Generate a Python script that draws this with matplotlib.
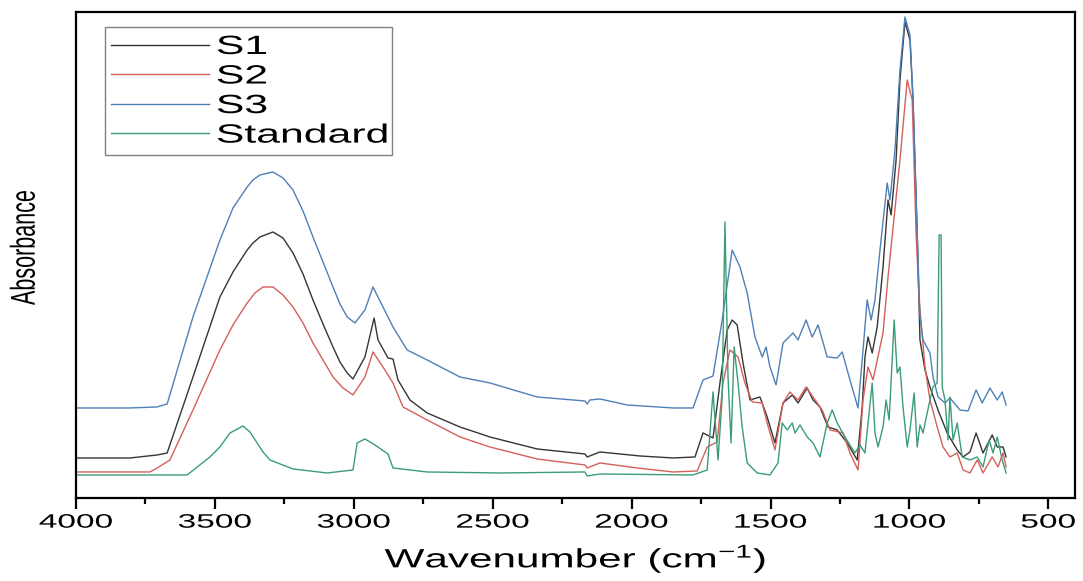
import matplotlib
matplotlib.use("Agg")
import matplotlib.pyplot as plt
from matplotlib.patheffects import AbstractPathEffect
from matplotlib.transforms import Affine2D
from matplotlib.lines import Line2D
from matplotlib.patches import Rectangle
from matplotlib.ticker import MultipleLocator

plt.rcParams['font.family'] = ['Liberation Sans', 'DejaVu Sans']
plt.rcParams['mathtext.fontset'] = 'custom'
plt.rcParams['mathtext.rm'] = 'Liberation Sans'
plt.rcParams['mathtext.it'] = 'Liberation Sans:italic'
plt.rcParams['mathtext.bf'] = 'Liberation Sans:bold'

# ---------------- data (wavenumber cm-1, absorbance a.u.) ----------------
s3_wn = [4000, 3806, 3708, 3672, 3579, 3482, 3435, 3384, 3363, 3338, 3291, 3255, 3219,
         3183, 3147, 3111, 3075, 3050, 3024,
         2996, 2960, 2931, 2895, 2859, 2808, 2736, 2618, 2510, 2340, 2168, 2160, 2150,
         2114, 2016, 1851, 1779, 1743, 1707, 1674, 1638, 1610, 1584, 1556, 1530, 1516,
         1502, 1480, 1455, 1419, 1401, 1372, 1350, 1329, 1296, 1260, 1242, 1214, 1185,
         1167, 1152, 1138, 1124, 1106, 1080, 1070, 1052, 1034, 1016, 998, 987, 972, 962,
         951, 926, 915, 897, 872, 854, 818, 789, 760, 738, 710, 684, 666, 652]
s3_abs = [0.180, 0.180, 0.182, 0.188, 0.362, 0.516, 0.580, 0.622, 0.636, 0.646, 0.652,
          0.640, 0.616, 0.574, 0.522, 0.472, 0.422, 0.388, 0.362,
          0.350, 0.376, 0.422, 0.382, 0.342, 0.296, 0.276, 0.242, 0.230,
          0.202, 0.194, 0.188, 0.196, 0.198, 0.186, 0.180, 0.180, 0.236, 0.244, 0.356,
          0.496, 0.462, 0.410, 0.322, 0.282, 0.302, 0.262, 0.226, 0.310, 0.330, 0.316,
          0.356, 0.322, 0.346, 0.282, 0.280, 0.292, 0.236, 0.180, 0.296, 0.396, 0.356,
          0.396, 0.496, 0.630, 0.596, 0.696, 0.856, 0.962, 0.926, 0.796, 0.530, 0.362,
          0.316, 0.290, 0.242, 0.202, 0.190, 0.200, 0.176, 0.174, 0.216, 0.190, 0.220,
          0.196, 0.212, 0.186]

s1_wn = [4000, 3806, 3708, 3672, 3579, 3482, 3435, 3384, 3363, 3338, 3291, 3255, 3219,
         3183, 3147, 3111, 3075, 3050, 3024,
         3003, 2960, 2927, 2913, 2877, 2859, 2841, 2798, 2736, 2618, 2510, 2340, 2168,
         2160, 2114, 1970, 1851, 1772, 1743, 1707, 1682, 1656, 1638, 1620, 1599, 1574,
         1538, 1512, 1484, 1455, 1422, 1401, 1368, 1347, 1322, 1293, 1260, 1224, 1188,
         1170, 1160, 1149, 1134, 1116, 1095, 1077, 1066, 1048, 1034, 1016, 998, 987, 972,
         962, 944, 926, 897, 864, 828, 807, 782, 760, 735, 702, 684, 663, 652]
s1_abs = [0.080, 0.080, 0.086, 0.090, 0.242, 0.402, 0.452, 0.496, 0.510, 0.522, 0.532,
          0.520, 0.490, 0.448, 0.396, 0.348, 0.302, 0.272, 0.250,
          0.238, 0.282, 0.360, 0.316, 0.280, 0.278, 0.236, 0.196, 0.170,
          0.142, 0.122, 0.098, 0.088, 0.082, 0.092, 0.084, 0.080, 0.082, 0.130, 0.120,
          0.230, 0.336, 0.356, 0.346, 0.270, 0.196, 0.202, 0.162, 0.110, 0.190, 0.206,
          0.190, 0.220, 0.196, 0.182, 0.142, 0.136, 0.110, 0.076, 0.182, 0.282, 0.322,
          0.290, 0.342, 0.462, 0.596, 0.566, 0.676, 0.836, 0.952, 0.916, 0.796, 0.530,
          0.316, 0.256, 0.222, 0.176, 0.130, 0.096, 0.082, 0.092, 0.130, 0.090, 0.126,
          0.102, 0.102, 0.082]

s2_wn = [4000, 3734, 3708, 3662, 3579, 3482, 3435, 3384, 3356, 3327, 3291, 3255, 3219,
         3183, 3147, 3111, 3075, 3039, 3003,
         2960, 2931, 2895, 2859, 2823, 2736, 2618, 2510, 2340, 2168, 2160, 2114, 1980,
         1851, 1764, 1728, 1692, 1671, 1646, 1617, 1592, 1566, 1530, 1512, 1484, 1455,
         1430, 1401, 1372, 1347, 1314, 1286, 1239, 1214, 1185, 1167, 1149, 1131, 1095,
         1077, 1034, 1008, 990, 976, 965, 944, 926, 900, 879, 854, 828, 807, 782, 756,
         735, 702, 681, 663, 652]
s2_abs = [0.052, 0.052, 0.060, 0.076, 0.176, 0.296, 0.346, 0.390, 0.410, 0.422, 0.422,
          0.406, 0.382, 0.350, 0.310, 0.276, 0.242, 0.220, 0.206,
          0.242, 0.292, 0.262, 0.230, 0.182, 0.156, 0.122, 0.102, 0.078,
          0.066, 0.060, 0.070, 0.060, 0.052, 0.054, 0.102, 0.112, 0.230, 0.296, 0.282,
          0.230, 0.192, 0.190, 0.150, 0.096, 0.190, 0.212, 0.196, 0.222, 0.202, 0.176,
          0.136, 0.130, 0.090, 0.056, 0.196, 0.262, 0.236, 0.330, 0.442, 0.676, 0.836,
          0.796, 0.530, 0.396, 0.262, 0.196, 0.142, 0.102, 0.082, 0.090, 0.056, 0.050,
          0.076, 0.050, 0.082, 0.062, 0.090, 0.062]

std_wn = [4000, 3600, 3518, 3482, 3446, 3399, 3374, 3348, 3327, 3302, 3219, 3096, 3003,
          2988, 2960, 2942,
          2924, 2898, 2877, 2859, 2736, 2474, 2168, 2160, 2114, 1779, 1728, 1707, 1689,
          1674, 1664, 1653, 1642, 1631, 1617, 1602, 1584, 1548, 1502, 1473, 1458, 1440,
          1422, 1412, 1394, 1368, 1347, 1322, 1296, 1278, 1260, 1232, 1196, 1178, 1160,
          1134, 1124, 1113, 1095, 1084, 1073, 1062, 1055, 1044, 1034, 1023, 1008, 998,
          983, 972, 962, 951, 936, 926, 915, 900, 893, 886, 882, 872, 861, 854, 843, 828,
          810, 782, 756, 735, 713, 699, 684, 666, 652]
std_abs = [0.046, 0.046, 0.082, 0.102, 0.130, 0.144, 0.132, 0.110, 0.092, 0.076, 0.058,
           0.050, 0.056, 0.110,
           0.118, 0.112, 0.106, 0.096, 0.088, 0.060, 0.052, 0.050, 0.052, 0.044, 0.048,
           0.046, 0.056, 0.212, 0.076, 0.202, 0.552, 0.242, 0.110, 0.302, 0.230, 0.142,
           0.070, 0.050, 0.046, 0.070, 0.150, 0.136, 0.150, 0.130, 0.146, 0.122, 0.110,
           0.082, 0.150, 0.176, 0.150, 0.122, 0.090, 0.106, 0.090, 0.230, 0.130, 0.102,
           0.142, 0.196, 0.156, 0.276, 0.356, 0.250, 0.262, 0.182, 0.102, 0.136, 0.210,
           0.102, 0.146, 0.130, 0.170, 0.196, 0.222, 0.230, 0.526, 0.526, 0.222, 0.196,
           0.116, 0.202, 0.116, 0.150, 0.082, 0.076, 0.082, 0.062, 0.116, 0.090, 0.122,
           0.076, 0.050]

series_names = ['S1', 'S2', 'S3', 'Standard']
x_ticks = [4000, 3500, 3000, 2500, 2000, 1500, 1000, 500]


# ---------------- horizontal glyph stretch (source image is stretched) ----------------
class Stretch(AbstractPathEffect):
    def __init__(self, sx=1.0, sy=1.0, anchor='center'):
        super().__init__()
        self.sx, self.sy, self.anchor = sx, sy, anchor

    def draw_path(self, renderer, gc, tpath, affine, rgbFace=None):
        ext = tpath.get_extents()
        cx = ext.x0 if self.anchor == 'left' else 0.5 * (ext.x0 + ext.x1)
        cy = 0.5 * (ext.y0 + ext.y1)
        t = Affine2D().translate(-cx, -cy).scale(self.sx, self.sy).translate(cx, cy) + affine
        renderer.draw_path(gc, tpath, t, rgbFace)


colors = ['#353535', '#d4605c', '#4f80b8', '#3a9c78']

fig = plt.figure(figsize=(10.83, 5.81), dpi=100)
ax = fig.add_axes([0.0702, 0.1429, 0.9224, 0.8365])

ax.plot(s1_wn, s1_abs, color=colors[0], lw=1.0)
ax.plot(s2_wn, s2_abs, color=colors[1], lw=1.0)
ax.plot(s3_wn, s3_abs, color=colors[2], lw=1.0)
ax.plot(std_wn, std_abs, color=colors[3], lw=1.0)

ax.set_xlim(4000, 404)
ax.set_ylim(0, 0.972)
ax.set_xticks(x_ticks)
ax.set_xticklabels([str(t) for t in x_ticks])
ax.xaxis.set_minor_locator(MultipleLocator(250))
ax.set_yticks([])
ax.tick_params(axis='x', which='major', direction='out', length=8, width=1.6,
               labelsize=14, pad=4, colors='black')
ax.tick_params(axis='x', which='minor', direction='out', length=4.5, width=1.6)
for sp in ax.spines.values():
    sp.set_linewidth(1.6)
    sp.set_color('black')

for tk in ax.xaxis.get_major_ticks():
    tk.label1.set_path_effects([Stretch(1.72, 1.0, 'center')])

xl = ax.set_xlabel('Wavenumber (cm$^{-1}$)', fontsize=19, labelpad=8)
xl.set_path_effects([Stretch(1.6, 1.0, 'center')])
yl = ax.set_ylabel('Absorbance', fontsize=15.5)
ax.yaxis.set_label_coords(-0.041, 0.515)
yl.set_path_effects([Stretch(1.0, 1.6, 'center')])

# legend (frame drawn separately so it encloses the stretched labels)
handles = [Line2D([], [], color=c, lw=1.0) for c in colors]
leg = ax.legend(handles, series_names, loc='upper left', frameon=False,
                bbox_to_anchor=((111 - 76) / 999, (498 - 35) / 486),
                borderpad=0, borderaxespad=0, fontsize=19,
                handlelength=3.7, handletextpad=0.3, labelspacing=0.21)
for t in leg.get_texts():
    t.set_path_effects([Stretch(1.62, 1.0, 'left')])
ax.add_patch(Rectangle(((105 - 76) / 999, (498 - 155) / 486), (392 - 105) / 999,
                       (155 - 27) / 486, transform=ax.transAxes, fill=False,
                       edgecolor='#808080', lw=1.0, zorder=4))

fig.savefig('out.png', dpi=100)
